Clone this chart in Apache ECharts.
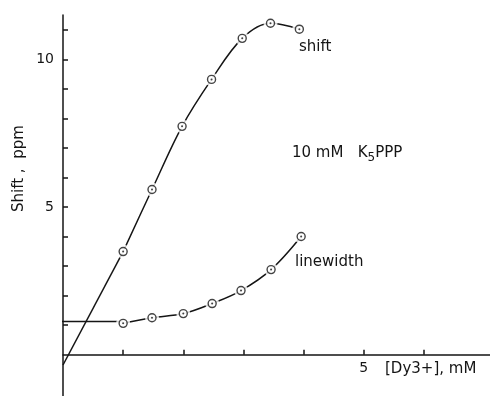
<!DOCTYPE html>
<html>
<head>
<meta charset="utf-8">
<script src="https://cdn.jsdelivr.net/npm/echarts@6/dist/echarts.min.js"></script>
<style>
  html, body { margin: 0; padding: 0; background: #fff; }
  #main { width: 490px; height: 396px; }
</style>
</head>
<body>
<div id="main"></div>
<script>
// 数据
var shiftX = [1.0, 1.48, 1.98, 2.47, 2.98, 3.45, 3.93];
var shiftY = [3.49, 5.59, 7.73, 9.32, 10.71, 11.22, 11.02];
var widthX = [1.0, 1.48, 2.0, 2.48, 2.96, 3.46, 3.96];
var widthY = [1.06, 1.25, 1.39, 1.73, 2.17, 2.88, 4.0];
// 外推线
var shiftExtX = [0, 1.0];
var shiftExtY = [-0.35, 3.49];
var widthExtX = [-0.02, 1.0];
var widthExtY = [1.12, 1.12];
// 刻度
var xTicks = [1, 2, 3, 4, 5, 6];
var xLabels = [5];
var yTicks = [1, 2, 3, 4, 5, 6, 7, 8, 9, 10, 11];
var yLabels = [5, 10];

var INK = '#151515';
var FONT = 'DejaVu Sans';
var Y_MIN = -1.4, Y_MAX = 11.5;
var GRID_TOP = 15, H = 396;
// x轴放在 y=0 处
var zeroPx = GRID_TOP + Y_MAX / (Y_MAX - Y_MIN) * (H - GRID_TOP);
var xOffset = -(H - zeroPx);

function pairs(xs, ys) {
  return xs.map(function (x, i) { return [x, ys[i]]; });
}

// 数据点: 白色光晕 + 圆圈 + 中心点
function markers(name, xs, ys) {
  var d = pairs(xs, ys);
  return [
    { name: name + 'halo', type: 'scatter', data: d, symbol: 'circle', symbolSize: 14, z: 3,
      itemStyle: { color: '#fff' }, silent: true },
    { name: name + 'ring', type: 'scatter', data: d, symbol: 'circle', symbolSize: 8, z: 4,
      itemStyle: { color: '#fff', borderColor: INK, borderWidth: 1.4 }, silent: true },
    { name: name + 'dot', type: 'scatter', data: d, symbol: 'circle', symbolSize: 2, z: 5,
      itemStyle: { color: INK }, silent: true }
  ];
}

var myChart = echarts.init(document.getElementById('main'));
var series = [
  { name: 'shift', type: 'line', data: pairs(shiftX, shiftY), smooth: 0.35, showSymbol: false, z: 2,
    lineStyle: { color: INK, width: 1.5 } },
  { name: 'linewidth', type: 'line', data: pairs(widthX, widthY), smooth: 0.35, showSymbol: false, z: 2,
    lineStyle: { color: INK, width: 1.5 } },
  { name: 'shiftExt', type: 'line', data: pairs(shiftExtX, shiftExtY), showSymbol: false, z: 2,
    lineStyle: { color: INK, width: 1.5 } },
  { name: 'widthExt', type: 'line', data: pairs(widthExtX, widthExtY), showSymbol: false, z: 2,
    lineStyle: { color: INK, width: 1.5 } }
].concat(markers('s', shiftX, shiftY)).concat(markers('w', widthX, widthY));

myChart.setOption({
  animation: false,
  backgroundColor: '#fff',
  grid: { left: 63, right: 0, top: GRID_TOP, bottom: 0, containLabel: false, outerBoundsMode: 'none' },
  xAxis: {
    type: 'value', min: 0, max: 7.1, offset: xOffset,
    axisLine: { onZero: false, lineStyle: { color: INK, width: 1.5 } },
    axisTick: { inside: true, length: 5, customValues: xTicks, lineStyle: { color: INK, width: 1.5 } },
    axisLabel: { customValues: xLabels, margin: 7, color: INK, fontFamily: FONT, fontSize: 14 },
    splitLine: { show: false }
  },
  yAxis: {
    type: 'value', min: Y_MIN, max: Y_MAX,
    axisLine: { onZero: false, lineStyle: { color: INK, width: 1.5 } },
    axisTick: { inside: true, length: 5, customValues: yTicks, lineStyle: { color: INK, width: 1.5 } },
    axisLabel: { customValues: yLabels, margin: 9, color: INK, fontFamily: FONT, fontSize: 14 },
    splitLine: { show: false }
  },
  graphic: [
    { type: 'text', left: 299, top: 40, style: { text: 'shift', fill: INK, font: '15px "DejaVu Sans"' } },
    { type: 'text', left: 295, top: 255, style: { text: 'linewidth', fill: INK, font: '15px "DejaVu Sans"' } },
    { type: 'text', left: 292, top: 146,
      style: { rich: { a: { fontSize: 15, fontFamily: FONT, fill: INK }, s: { fontSize: 12, fontFamily: FONT, fill: INK, padding: [9, 0, 0, 0] } },
        text: '{a|10 mM   K}{s|5}{a|PPP}' } },
    { type: 'text', left: 385, top: 362, style: { text: '[Dy3+], mM', fill: INK, font: '15px "DejaVu Sans"' } },
    { type: 'text', x: 12, y: 212, rotation: Math.PI / 2, style: { text: 'Shift ,  ppm', fill: INK, font: '15px "DejaVu Sans"' } }
  ],
  series: series
});
</script>
</body>
</html>
